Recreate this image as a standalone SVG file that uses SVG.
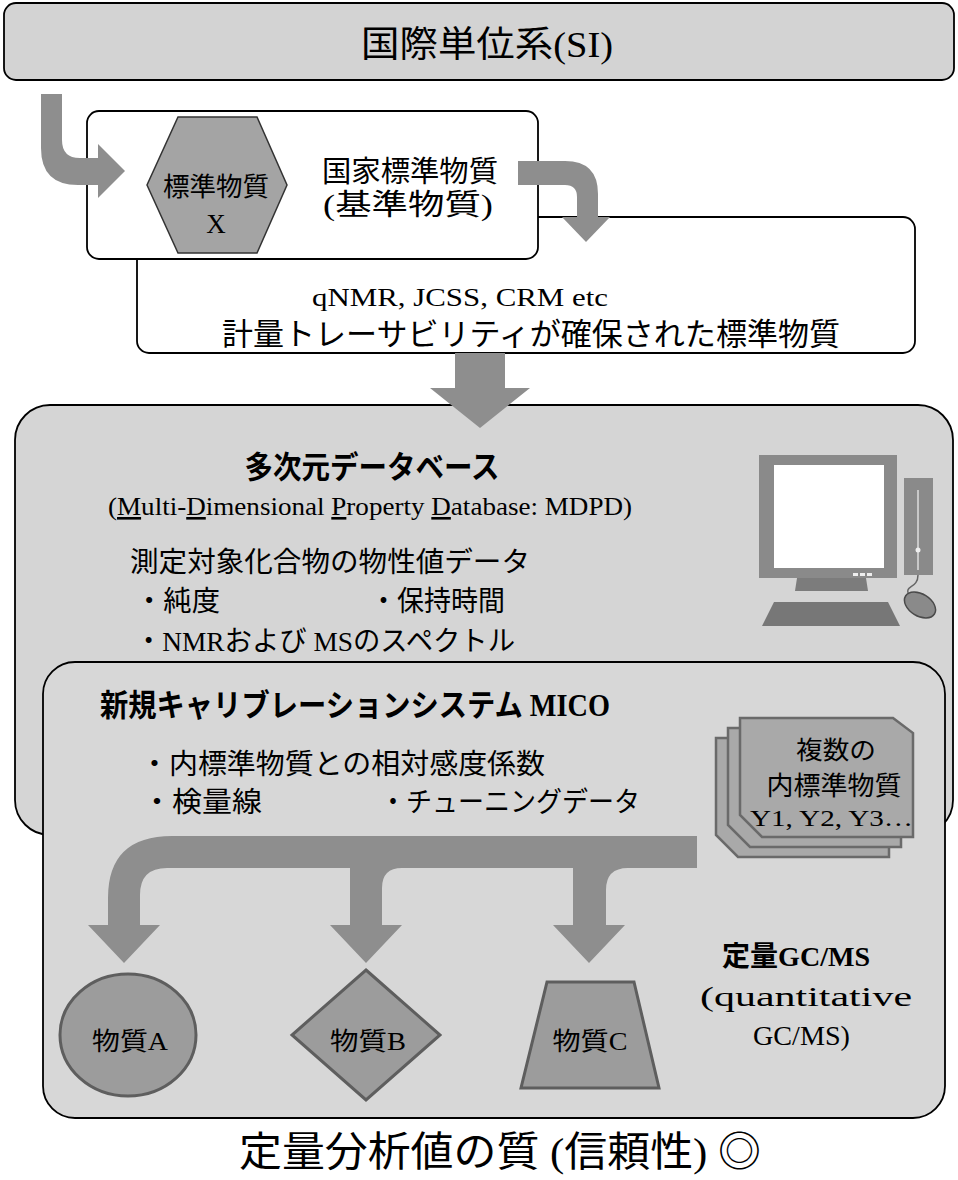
<svg xmlns="http://www.w3.org/2000/svg" width="958" height="1180" viewBox="0 0 958 1180">
  <style>
    .t { font-family: "Liberation Serif", "Noto Sans CJK JP", serif; fill: #000; }
    .b { font-weight: bold; }
    .mid { text-anchor: middle; }
    .panel { stroke: #000; stroke-width: 1.8; }
    .whitebox { fill: #fff; stroke: #000; stroke-width: 1.8; }
    .arrow { fill: #8e8e8e; }
    .shape { fill: #9c9c9c; stroke: #5e5e5e; stroke-width: 3; }
    .card { fill: #a9a9a9; stroke: #6a6a6a; stroke-width: 2.5; }
  </style>

  <!-- SI header -->
  <g id="si">
    <rect x="4" y="3" width="950" height="77" rx="12" fill="#d3d3d3" class="panel"/>
    <text class="t mid" x="487" y="57" font-size="36" textLength="252" lengthAdjust="spacingAndGlyphs">国際単位系(SI)</text>
  </g>

  <!-- traceable reference materials box (behind national standard box) -->
  <g id="traceable">
    <rect x="137" y="217" width="778" height="136" rx="12" class="whitebox"/>
    <text class="t mid" x="460" y="306" font-size="26" textLength="296" lengthAdjust="spacingAndGlyphs">qNMR, JCSS, CRM etc</text>
    <text class="t mid" x="531" y="345" font-size="31" textLength="618" lengthAdjust="spacingAndGlyphs">計量トレーサビリティが確保された標準物質</text>
  </g>

  <!-- national standard material box -->
  <g id="national">
    <rect x="87" y="111" width="451" height="148" rx="12" class="whitebox"/>
    <polygon points="178,117 257,117 287,185 257,253 178,253 147,185" fill="#a4a4a4" stroke="#333" stroke-width="1.5"/>
    <text class="t mid" x="216" y="196" font-size="26" textLength="106" lengthAdjust="spacingAndGlyphs">標準物質</text>
    <text class="t mid" x="216" y="233" font-size="27">X</text>
    <text class="t mid" x="410" y="182" font-size="29" textLength="176" lengthAdjust="spacingAndGlyphs">国家標準物質</text>
    <text class="t mid" x="408" y="215" font-size="29" textLength="170" lengthAdjust="spacingAndGlyphs">(基準物質)</text>
  </g>

  <!-- database panel -->
  <g id="database">
    <rect x="15" y="405" width="938" height="430" rx="35" fill="#d5d5d5" class="panel"/>
    <text class="t mid b" x="372" y="478" font-size="31" textLength="255" lengthAdjust="spacingAndGlyphs">多次元データベース</text>
    <text class="t mid" x="370" y="515" font-size="26" textLength="524" lengthAdjust="spacingAndGlyphs">(<tspan text-decoration="underline">M</tspan>ulti-<tspan text-decoration="underline">D</tspan>imensional <tspan text-decoration="underline">P</tspan>roperty <tspan text-decoration="underline">D</tspan>atabase: MDPD)</text>
    <text class="t" x="130" y="572" font-size="28" textLength="400" lengthAdjust="spacingAndGlyphs">測定対象化合物の物性値データ</text>
    <text class="t" x="135" y="611" font-size="28" textLength="85" lengthAdjust="spacingAndGlyphs">・純度</text>
    <text class="t" x="370" y="611" font-size="28" textLength="135" lengthAdjust="spacingAndGlyphs">・保持時間</text>
    <text class="t" x="135" y="651" font-size="28" textLength="380" lengthAdjust="spacingAndGlyphs">・NMRおよび MSのスペクトル</text>
    <!-- computer -->
    <g id="computer">
      <rect x="759" y="455" width="138" height="123" fill="#8a8a8a"/>
      <rect x="774" y="465" width="110" height="103" fill="#fff"/>
      <rect x="853" y="573" width="5" height="3" fill="#eee"/>
      <rect x="860" y="573" width="5" height="3" fill="#eee"/>
      <rect x="867" y="573" width="5" height="3" fill="#eee"/>
      <polygon points="797,578 866,578 868,591 795,591" fill="#7c7c7c"/>
      <rect x="904" y="478" width="29" height="97" fill="#8a8a8a"/>
      <line x1="918" y1="490" x2="918" y2="570" stroke="#c8c8c8" stroke-width="2"/>
      <circle cx="918" cy="550" r="2.5" fill="#eee"/>
      <polygon points="774,602 888,602 900,626 762,626" fill="#777"/>
      <path d="M918 575 C918 590 902 584 910 597" fill="none" stroke="#666" stroke-width="1.5"/>
      <ellipse cx="920" cy="605" rx="17" ry="11" transform="rotate(32 920 605)" fill="#8a8a8a" stroke="#4a4a4a" stroke-width="1.5"/>
    </g>
  </g>

  <!-- MICO calibration system panel -->
  <g id="mico">
    <rect x="43" y="662" width="902" height="456" rx="32" fill="#d7d7d7" class="panel"/>
    <text class="t b" x="100" y="716" font-size="31" textLength="510" lengthAdjust="spacingAndGlyphs">新規キャリブレーションシステム MICO</text>
    <text class="t" x="140" y="774" font-size="28" textLength="405" lengthAdjust="spacingAndGlyphs">・内標準物質との相対感度係数</text>
    <text class="t" x="142" y="812" font-size="28" textLength="120" lengthAdjust="spacingAndGlyphs">・検量線</text>
    <text class="t" x="380" y="812" font-size="28" textLength="260" lengthAdjust="spacingAndGlyphs">・チューニングデータ</text>
    <text class="t b" x="722" y="966" font-size="28" textLength="148" lengthAdjust="spacingAndGlyphs">定量GC/MS</text>
    <text class="t" x="700" y="1006" font-size="27" textLength="212" lengthAdjust="spacingAndGlyphs">(quantitative</text>
    <text class="t" x="753" y="1045" font-size="27" textLength="97" lengthAdjust="spacingAndGlyphs">GC/MS)</text>
  </g>

  <!-- internal standards (stacked cards) -->
  <g id="internal-standards">
    <polygon class="card" points="716,738 869,738 889,753 889,857 738,857 716,835"/>
    <polygon class="card" points="728,728 881,728 901,743 901,847 750,847 728,825"/>
    <polygon class="card" points="740,718 893,718 913,733 913,837 762,837 740,815"/>
    <text class="t mid" x="836" y="759" font-size="25" textLength="80" lengthAdjust="spacingAndGlyphs">複数の</text>
    <text class="t mid" x="834" y="795" font-size="26" textLength="135" lengthAdjust="spacingAndGlyphs">内標準物質</text>
    <text class="t" x="750" y="826" font-size="24" textLength="163" lengthAdjust="spacingAndGlyphs">Y1, Y2, Y3…</text>
  </g>

  <!-- analytes -->
  <g id="substance-a">
    <ellipse cx="128" cy="1035" rx="68" ry="61" class="shape"/>
    <text class="t mid" x="130" y="1050" font-size="25" textLength="76" lengthAdjust="spacingAndGlyphs">物質A</text>
  </g>
  <g id="substance-b">
    <polygon points="366,970 440,1035 366,1100 292,1035" class="shape"/>
    <text class="t mid" x="368" y="1050" font-size="25" textLength="76" lengthAdjust="spacingAndGlyphs">物質B</text>
  </g>
  <g id="substance-c">
    <polygon points="547,982 634,982 659,1088 521,1088" class="shape"/>
    <text class="t mid" x="590" y="1050" font-size="25" textLength="75" lengthAdjust="spacingAndGlyphs">物質C</text>
  </g>

  <!-- connectors -->
  <g id="connectors">
    <path class="arrow" d="M41 94 L62 94 L62 140 Q62 158 80 158 L98 158 L98 144 L125 171 L98 198 L98 185 L78 185 Q41 185 41 148 Z"/>
    <path class="arrow" d="M518 161 L565 161 Q598 161 598 194 L598 217 L610 217 L586 242 L562 217 L577 217 L577 197 Q577 185 565 185 L518 185 Z"/>
    <path class="arrow" d="M455 353 L505 353 L505 388 L530 388 L480 428 L430 388 L455 388 Z"/>
    <path class="arrow" d="M697 836 L172 836 Q108 836 108 898 L108 925 L88 925 L124 963 L160 925 L140 925 L140 895 Q140 868 167 868 L350 868 L350 925 L330 925 L366 963 L402 925 L382 925 L382 888 Q382 868 402 868 L573 868 L573 925 L553 925 L589 963 L625 925 L606 925 L606 890 Q606 868 628 868 L697 868 Z"/>
  </g>

  <!-- conclusion -->
  <g id="quality">
    <text class="t mid" x="500" y="1166" font-size="41" textLength="522" lengthAdjust="spacingAndGlyphs">定量分析値の質 (信頼性) ◎</text>
  </g>
</svg>
